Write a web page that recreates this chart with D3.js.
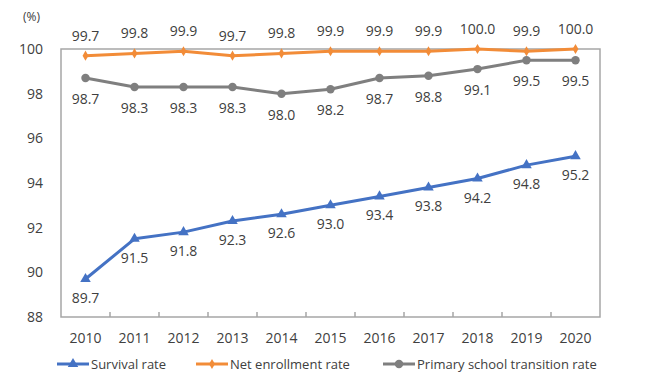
<!DOCTYPE html>
<html lang="en">
<head>
<meta charset="UTF-8">
<title>Rates</title>
<script src="https://d3js.org/d3.v7.min.js"></script>
<style>
body { margin: 0; background: #fff; }
svg text { font-family: "Open Sans", "Noto Sans", sans-serif; fill: #404040; }
</style>
</head>
<body>
<script>
var years = ["2010","2011","2012","2013","2014","2015","2016","2017","2018","2019","2020"];
var survival = [89.7, 91.5, 91.8, 92.3, 92.6, 93.0, 93.4, 93.8, 94.2, 94.8, 95.2];
var netEnroll = [99.7, 99.8, 99.9, 99.7, 99.8, 99.9, 99.9, 99.9, 100.0, 99.9, 100.0];
var transition = [98.7, 98.3, 98.3, 98.3, 98.0, 98.2, 98.7, 98.8, 99.1, 99.5, 99.5];
var yTicks = [88, 90, 92, 94, 96, 98, 100];

var width = 660, height = 392;
var plotLeft = 61, plotRight = 600, plotTop = 49, plotBottom = 317;

var svg = d3.select("body").append("svg")
    .attr("width", width)
    .attr("height", height);

var x = d3.scaleBand().domain(years).range([plotLeft, plotRight]);
var y = d3.scaleLinear().domain([88, 100]).range([plotBottom, plotTop]);

// frame
svg.append("rect")
    .attr("x", plotLeft).attr("y", plotTop)
    .attr("width", plotRight - plotLeft).attr("height", plotBottom - plotTop)
    .attr("fill", "none").attr("stroke", "#a6a6a6").attr("stroke-width", 1.5);

// x axis ticks inside the plot
svg.selectAll(".xtick")
    .data(years.slice(1))
    .enter().append("line")
    .attr("x1", function(d) { return x(d); })
    .attr("x2", function(d) { return x(d); })
    .attr("y1", plotBottom).attr("y2", plotBottom - 5)
    .attr("stroke", "#a6a6a6").attr("stroke-width", 1.5);

svg.selectAll(".xlab")
    .data(years)
    .enter().append("text")
    .attr("x", function(d) { return x(d) + x.bandwidth() / 2; })
    .attr("y", 343)
    .attr("text-anchor", "middle")
    .style("font-size", "14px")
    .text(function(d) { return d; });

svg.selectAll(".ylab")
    .data(yTicks)
    .enter().append("text")
    .attr("x", 43)
    .attr("y", function(d) { return y(d) + 5; })
    .attr("text-anchor", "end")
    .style("font-size", "14px")
    .text(function(d) { return d; });

svg.append("text")
    .attr("x", 23).attr("y", 21)
    .style("font-size", "12px")
    .text("(%)");

var series = [
    { name: "Survival rate", values: survival, color: "#4472C4", marker: "triangle", dy: 24 },
    { name: "Net enrollment rate", values: netEnroll, color: "#F28C38", marker: "diamond", dy: -15 },
    { name: "Primary school transition rate", values: transition, color: "#7F7F7F", marker: "circle", dy: 26 }
];

var cx = function(i) { return x(years[i]) + x.bandwidth() / 2; };

function symbolFor(m) {
    if (m === "triangle") return d3.symbol().type(d3.symbolTriangle).size(48)();
    if (m === "diamond") return d3.symbol().type(d3.symbolDiamond).size(30)();
    return d3.symbol().type(d3.symbolCircle).size(56)();
}

series.forEach(function(s) {
    var line = d3.line()
        .x(function(d, i) { return cx(i); })
        .y(function(d) { return y(d); });

    svg.append("path")
        .datum(s.values)
        .attr("d", line)
        .attr("fill", "none")
        .attr("stroke", s.color)
        .attr("stroke-width", 3)
        .attr("stroke-linejoin", "round");

    svg.selectAll(null)
        .data(s.values)
        .enter().append("path")
        .attr("d", symbolFor(s.marker))
        .attr("transform", function(d, i) { return "translate(" + cx(i) + "," + y(d) + ")"; })
        .attr("fill", s.color);

    svg.selectAll(null)
        .data(s.values)
        .enter().append("text")
        .attr("x", function(d, i) { return cx(i); })
        .attr("y", function(d) { return y(d) + s.dy; })
        .attr("text-anchor", "middle")
        .style("font-size", "14px")
        .text(function(d) { return d.toFixed(1); });
});

// legend
var legendX = [57, 196, 383];
series.forEach(function(s, i) {
    var g = svg.append("g").attr("transform", "translate(" + legendX[i] + ",364)");
    g.append("line")
        .attr("x1", 0).attr("x2", 32)
        .attr("stroke", s.color).attr("stroke-width", 3);
    g.append("path")
        .attr("d", symbolFor(s.marker))
        .attr("transform", "translate(16,0)")
        .attr("fill", s.color);
    g.append("text")
        .attr("x", 34).attr("y", 5)
        .style("font-size", "13px")
        .text(s.name);
});
</script>
</body>
</html>
